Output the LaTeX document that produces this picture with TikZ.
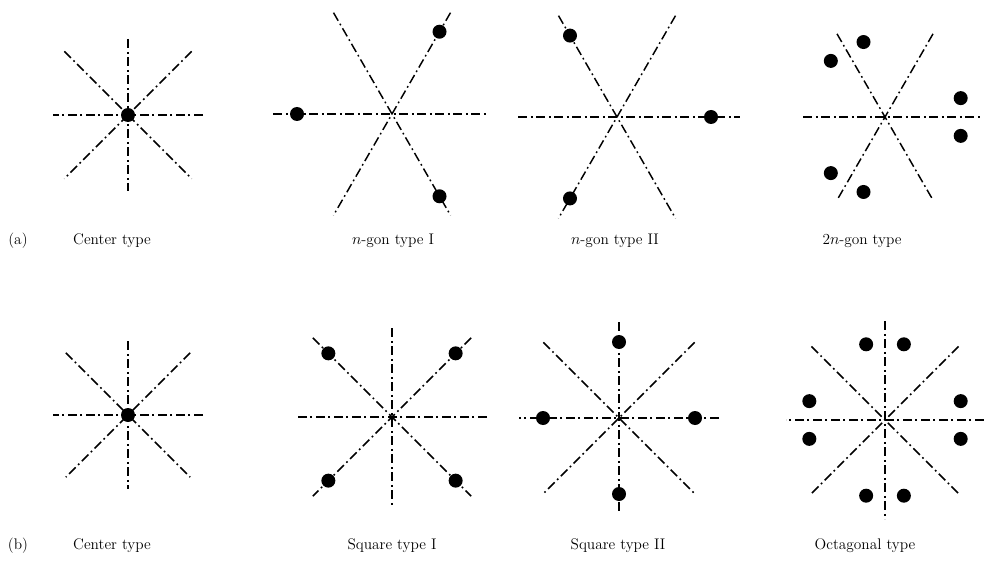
\documentclass[tikz,border=0pt]{standalone}
\usepackage{tikz}
\usetikzlibrary{positioning}

\begin{document}
\begin{tikzpicture}[x=0.75pt, y=0.75pt,
  every node/.style={font=\fontsize{11.5}{13}\selectfont},
  axis/.style={line width=1.1pt, dash pattern=on 7pt off 2.6pt on 1.3pt off 2.6pt},
  atom/.style={circle, fill, inner sep=0pt, minimum size=10.5pt},
  caption/.style={anchor=base, inner sep=0pt}
]
\useasboundingbox (0,0) rectangle (984,565);

% row (a)
\coordinate (ca1) at (128,450);
\coordinate (ca2) at (392,451);
\coordinate (ca3) at (617,448);
\coordinate (ca4) at (885,448);

\foreach \a/\r in {0/75, 90/76, 45/90, 135/90}
  \draw[axis] (ca1) ++(\a:\r) -- ++(\a+180:2*\r);
\node[atom] (a1o) at (ca1) {};

\draw[axis] (ca2) ++(180:119) -- ++(0:214);
\foreach \a in {60,120}
  \draw[axis] (ca2) ++(\a:117) -- ++(\a+180:234);
\foreach \a [count=\i] in {60,180,300}
  \node[atom] (a2d\i) at ([shift={(\a:95)}]ca2) {};

\draw[axis] (ca3) ++(180:99) -- ++(0:222);
\foreach \a in {60,120}
  \draw[axis] (ca3) ++(\a:117) -- ++(\a+180:234);
\foreach \a [count=\i] in {0,120,240}
  \node[atom] (a3d\i) at ([shift={(\a:94)}]ca3) {};

\draw[axis] (ca4) ++(180:82) -- ++(0:177);
\foreach \a in {60,120}
  \draw[axis] (ca4) ++(\a:96) -- ++(\a+180:192);
\foreach \a [count=\i] in {-14,14,106,134,226,254}
  \node[atom] (a4d\i) at ([shift={(\a:78)}]ca4) {};

\node[caption] (la)  at (18,321)  {(a)};
\node[caption] (la1) at (112,321) {Center type};
\node[caption] (la2) at (393,321) {$n$-gon type I};
\node[caption] (la3) at (615,321) {$n$-gon type II};
\node[caption] (la4) at (862,321) {2$n$-gon type};

% row (b)
\coordinate (cb1) at (128,150);
\coordinate (cb2) at (392,148);
\coordinate (cb3) at (619,147);
\coordinate (cb4) at (885,145);

\foreach \a/\r in {0/75, 90/74, 45/88, 135/88}
  \draw[axis] (cb1) ++(\a:\r) -- ++(\a+180:2*\r);
\node[atom] (b1o) at (cb1) {};

\foreach \a/\r in {0/95, 90/89, 45/112, 135/112}
  \draw[axis] (cb2) ++(\a:\r) -- ++(\a+180:2*\r);
\foreach \a [count=\i] in {45,135,225,315}
  \node[atom] (b2d\i) at ([shift={(\a:90)}]cb2) {};

\foreach \a/\r in {0/100, 90/96, 45/107, 135/107}
  \draw[axis] (cb3) ++(\a:\r) -- ++(\a+180:2*\r);
\foreach \a [count=\i] in {0,90,180,270}
  \node[atom] (b3d\i) at ([shift={(\a:76)}]cb3) {};

\foreach \a/\r in {0/99, 90/99, 45/104, 135/104}
  \draw[axis] (cb4) ++(\a:\r) -- ++(\a+180:2*\r);
\foreach \a [count=\i] in {-14,14,76,104,166,194,256,284}
  \node[atom] (b4d\i) at ([shift={(\a:78)}]cb4) {};

\node[caption] (lb)  at (18,16)  {(b)};
\node[caption] (lb1) at (112,16) {Center type};
\node[caption] (lb2) at (392,16) {Square type I};
\node[caption] (lb3) at (618,16) {Square type II};
\node[caption] (lb4) at (865,16) {Octagonal type};
\end{tikzpicture}
\end{document}
